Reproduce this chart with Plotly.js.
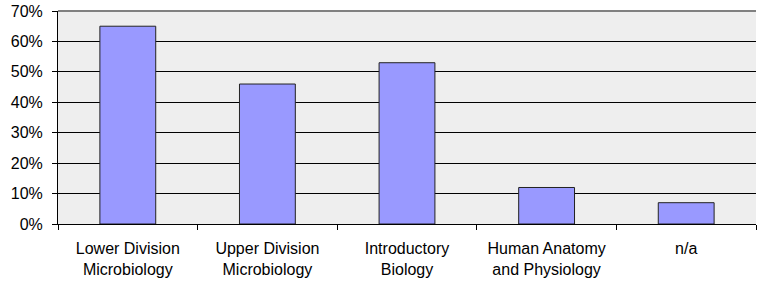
<!DOCTYPE html>
<html>
<head>
<meta charset="utf-8">
<script src="https://cdn.plot.ly/plotly-3.0.1.min.js"></script>
<style>html,body{margin:0;padding:0;background:#fff;}#chart{width:757px;height:284px;}</style>
</head>
<body>
<div id="chart"></div>
<script>
const categories = ["Lower Division<br>Microbiology", "Upper Division<br>Microbiology", "Introductory<br>Biology", "Human Anatomy<br>and Physiology", "n/a"];
const values = [0.65, 0.46, 0.53, 0.12, 0.07];
const yTickVals = [0, 0.1, 0.2, 0.3, 0.4, 0.5, 0.6, 0.7];
const yTickText = ["0%", "10%", "20%", "30%", "40%", "50%", "60%", "70%"];

const trace = {
  type: "bar",
  x: categories,
  y: values,
  width: 0.4,
  marker: {color: "#9999ff", line: {color: "#222", width: 1}},
  hoverinfo: "none"
};

const layout = {
  width: 757, height: 284,
  margin: {l: 58, r: 1, t: 11, b: 60},
  paper_bgcolor: "#ffffff",
  plot_bgcolor: "#eeeeee",
  font: {family: "Liberation Sans, Arial, sans-serif", size: 16, color: "#000"},
  showlegend: false,
  bargap: 0.6,
  xaxis: {
    type: "category",
    showline: true, linecolor: "#000", linewidth: 1,
    ticks: "outside", ticklen: 5, tickcolor: "#000",
    tickson: "boundaries",
    showgrid: false,
    ticklabelstandoff: 10,
    tickfont: {size: 16}
  },
  yaxis: {
    range: [0, 0.7],
    tickvals: yTickVals, ticktext: yTickText,
    showline: true, linecolor: "#000", linewidth: 1,
    ticks: "outside", ticklen: 5, tickcolor: "#000",
    showgrid: true, gridcolor: "#000", gridwidth: 1,
    zeroline: false,
    ticklabelstandoff: 6,
    tickfont: {size: 16}
  },
  shapes: [
    {type: "line", xref: "paper", yref: "paper", x0: 0, x1: 1, y0: 1, y1: 1, line: {color: "#808080", width: 2}}
  ]
};

Plotly.newPlot("chart", [trace], layout, {staticPlot: true, displayModeBar: false});
</script>
</body>
</html>
